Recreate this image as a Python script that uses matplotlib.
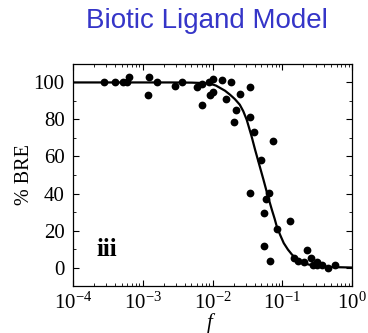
import numpy as np
import matplotlib
matplotlib.use('Agg')
import matplotlib.pyplot as plt
from matplotlib.ticker import LogLocator, MultipleLocator, NullFormatter

# ----- data (log10 f, % BRE) -----
logF_pts = [-3.55, -3.40, -3.28, -3.22, -3.19, -2.91, -2.92, -2.80, -2.54, -2.44,
            -2.22, -2.15, -2.15, -2.05, -1.99, -1.87, -1.73, -2.00, -2.04, -1.80,
            -1.61, -1.47, -1.66, -1.69, -1.46, -1.40, -1.14, -1.30, -1.47, -1.19,
            -1.23, -1.26, -0.89, -1.07, -1.26, -1.18, -0.83, -0.77, -0.69, -0.65,
            -0.59, -0.51, -0.56, -0.50, -0.43, -0.35, -0.25]
bre_pts = [100, 100, 100, 100, 103, 103, 93.4, 100, 98, 100,
           97.5, 99, 88, 100, 102, 101.5, 100.4, 95, 93, 91,
           93.5, 97.5, 85.2, 78.4, 81.6, 73.2, 68.1, 58.2, 40.5, 40.5,
           37.0, 29.7, 25.1, 20.8, 11.7, 3.8, 5.1, 3.8, 3.2, 9.6,
           5.1, 3.2, 1.3, 1.3, 1.3, -0.3, 1.3]

# model curve
logF_fit = [-4.0, -2.6, -2.3, -2.15, -2.04, -1.95, -1.89, -1.82, -1.75, -1.68,
            -1.61, -1.56, -1.51, -1.44, -1.39, -1.33, -1.27, -1.21, -1.15, -1.11,
            -1.08, -1.03, -0.98, -0.92, -0.86, -0.80, -0.75, -0.68, -0.62, -0.51,
            -0.35, 0.0]
bre_fit = [100, 100, 99.9, 99.7, 99.4, 98.3, 97, 95.5, 93.4, 91,
           88, 84.5, 79.8, 70.8, 63.6, 55.5, 47.4, 39.0, 31.2, 26.3,
           22.2, 17.5, 13.2, 9.7, 6.9, 4.7, 3.2, 2.2, 1.6, 0.9,
           0.3, 0]

plt.rcParams['font.family'] = ['Liberation Serif', 'DejaVu Serif']
plt.rcParams['mathtext.fontset'] = 'custom'
plt.rcParams['mathtext.rm'] = 'Liberation Serif'
plt.rcParams['mathtext.it'] = 'Liberation Serif:italic'

fig = plt.figure(figsize=(3.68, 3.33), dpi=100)
ax = fig.add_axes([0.198, 0.141, 0.759, 0.667])

ax.plot(10.0**np.array(logF_fit), bre_fit, color='black', lw=1.6)
ax.plot(10.0**np.array(logF_pts), bre_pts, 'o', color='black', ms=5.6, mew=0)

ax.set_xscale('log')
ax.set_xlim(1e-4, 1)
ax.set_ylim(-10, 110)
ax.xaxis.set_major_locator(LogLocator(base=10, numticks=10))
ax.xaxis.set_minor_locator(LogLocator(base=10, subs=np.arange(2, 10), numticks=20))
ax.xaxis.set_minor_formatter(NullFormatter())
ax.yaxis.set_major_locator(MultipleLocator(20))
ax.yaxis.set_minor_locator(MultipleLocator(10))
ax.set_yticks([0, 20, 40, 60, 80, 100])

ax.tick_params(which='both', direction='in', top=True, right=True, labelsize=15)
ax.tick_params(which='major', length=4, width=0.8)
ax.tick_params(axis='y', which='major', pad=6)
ax.tick_params(axis='x', which='major', pad=5)
ax.tick_params(which='minor', length=2.5, width=0.6)
for s in ax.spines.values():
    s.set_linewidth(0.9)

ax.text(-0.172, 0.5, '% BRE', transform=ax.transAxes, rotation=90,
        ha='center', va='center', fontsize=14.5)
ax.text(0.49, -0.167, 'f', transform=ax.transAxes, ha='center', va='center',
        fontsize=15, style='italic')
ax.text(10**-3.51, 9.5, 'iii', ha='center', va='center', fontsize=18,
        fontweight='bold')

fig.text(0.5625, 0.937, 'Biotic Ligand Model', ha='center', va='center',
         fontsize=20, color='#3535C8', family='Liberation Sans')

fig.savefig('out.png', dpi=100)
